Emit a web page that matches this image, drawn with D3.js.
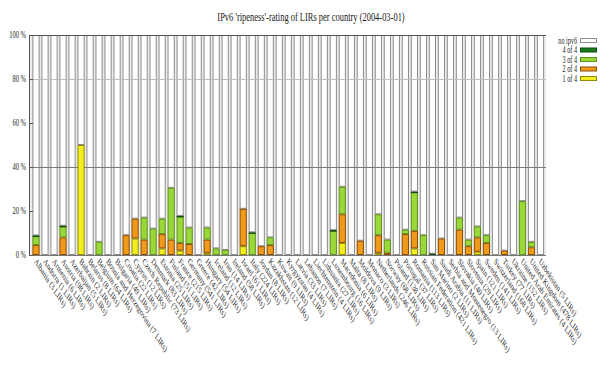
<!DOCTYPE html>
<html>
<head>
<meta charset="utf-8">
<script src="https://cdn.jsdelivr.net/npm/d3@7"></script>
<style>
  body { margin: 0; background: #fff; }
  text { font-family: "Liberation Serif", "DejaVu Serif", serif; fill: #1a1a1a; }
</style>
</head>
<body>
<svg id="chart" width="604" height="376"></svg>
<script>
const countries = ["Albania", "Andorra", "Armenia", "Austria", "Azerbaijan", "Bahrain", "Belarus",
  "Belgium", "Bosnia and Herzegovina", "Bulgaria", "Croatia", "Cyprus", "Czech Republic", "Denmark",
  "Estonia", "Finland", "France", "Germany", "Greece", "Hungary", "Iceland", "Iran", "Ireland",
  "Israel", "Italy", "Jordan", "Kazakhstan", "Kuwait", "Kyrgyzstan", "Latvia", "Lebanon",
  "Liechtenstein", "Lithuania", "Luxembourg", "Macedonia", "Malta", "Moldova", "Monaco",
  "Netherlands", "Norway", "Poland", "Portugal", "Romania", "Russian Federation", "San Marino",
  "Saudi Arabia", "Serbia and Montenegro", "Slovakia", "Slovenia", "Spain", "Sweden", "Switzerland",
  "Turkey", "Ukraine", "United Arab Emirates", "United Kingdom", "Uzbekistan"];
const lirCounts = [3, 1, 6, 98, 5, 2, 8, 64, 7, 49, 22, 12, 73, 83, 25, 51, 215, 541, 42, 54, 12, 14, 58,
  61, 224, 8, 12, 9, 4, 33, 7, 4, 27, 16, 6, 8, 9, 3, 246, 68, 138, 37, 113, 421, 2, 11, 13, 40, 29,
  121, 141, 168, 77, 152, 4, 478, 5];

// percent of LIRs per rating
const oneOf4 = [0, 0, 0, 0, 0, 50, 0, 0, 0, 0, 0, 7.5, 0, 0, 3, 0, 2, 0, 0, 1, 0, 0, 0, 4, 0, 0, 0,
  0, 0, 0, 0, 0, 0, 0, 5.5, 0, 0, 0, 1, 0, 0, 0, 3, 0, 0, 0, 0, 0, 0, 1.5, 0, 0, 0, 0, 0, 0, 0];
const twoOf4 = [4.5, 0, 0, 8, 0, 0, 0, 0, 0, 0, 9, 9, 7, 0, 6.5, 7, 3.5, 5, 0, 6, 0, 0, 0, 17, 0, 4, 4.5,
  0, 0, 0, 0, 0, 0, 0, 13, 0, 6.5, 0, 8, 1, 0, 9.5, 8, 0, 0, 7.5, 0, 11.5, 4, 6.5, 5.5, 0, 2, 0, 0, 3.5, 0];
const threeOf4 = [4, 0, 0, 5, 0, 0, 0, 6, 0, 0, 0, 0, 10, 12, 7, 23.5, 12, 7.5, 0, 5.5, 3, 2.3, 0, 0, 10,
  0, 3.5, 0, 0, 0, 0, 0, 0, 11, 12.5, 0, 0, 0, 9.5, 6, 0, 2, 17.5, 9, 0, 0, 0, 5.5, 3, 5, 3.5, 0, 0, 0,
  24.5, 2.5, 0];
const fourOf4 = [0.4, 0, 0, 0.3, 0, 0, 0, 0, 0, 0, 0, 0, 0, 0, 0, 0, 0.3, 0, 0, 0, 0, 0, 0, 0, 0.3, 0, 0,
  0, 0, 0, 0, 0, 0, 0.3, 0, 0, 0, 0, 0, 0, 0, 0, 0.3, 0, 0.6, 0, 0, 0, 0, 0, 0, 0, 0, 0, 0, 0, 0];
const yTicks = [0, 20, 40, 60, 80, 100];

const keys = ["one", "two", "three", "four", "none"];
const legendLabels = { none: "no ipv6", four: "4 of 4", three: "3 of 4", two: "2 of 4", one: "1 of 4" };
const fills = { none: "#ffffff", four: "#1f7a1f", three: "#9ad83a", two: "#f09a1c", one: "#f3ee22" };
const strokes = { none: "#8c8c8c", four: "#0f4a0f", three: "#5f8f1c", two: "#8a4c00", one: "#8f8a00" };

const rows = countries.map((c, i) => {
  const r = { country: c, one: oneOf4[i], two: twoOf4[i], three: threeOf4[i], four: fourOf4[i] };
  r.none = 100 - r.one - r.two - r.three - r.four;
  return r;
});

const svg = d3.select("#chart");
const SQ = 0.65; // the picture is squeezed sideways

const x = d3.scaleBand().domain(countries).range([31.5, 545]).paddingInner(0.2).paddingOuter(0.1);
const y = d3.scaleLinear().domain([0, 100]).range([255, 35]);

svg.append("text")
  .attr("transform", `translate(311,21) scale(${SQ},1)`)
  .attr("text-anchor", "middle")
  .style("font-size", "13px")
  .text("IPv6 'ripeness'-rating of LIRs per country (2004-03-01)");

// faint grey shows in the gaps between the columns
svg.append("rect")
  .attr("x", 30).attr("y", 36).attr("width", 516).attr("height", 219)
  .attr("fill", "#ececec");

const stacked = d3.stack().keys(keys)(rows);

function drawLayers(layers) {
  svg.append("g")
    .selectAll("g")
    .data(layers)
    .join("g")
    .attr("fill", (s) => fills[s.key])
    .attr("stroke", (s) => strokes[s.key])
    .selectAll("rect")
    .data((s) => s.filter((d) => d[1] - d[0] > 0))
    .join("rect")
    .attr("x", (d) => x(d.data.country) + 0.5)
    .attr("width", x.bandwidth() - 1)
    .attr("y", (d) => y(d[1]) + 0.5)
    .attr("height", (d) => Math.max(0.4, y(d[0]) - y(d[1]) - 1))
    .attr("stroke-width", 1);
}

// white "no ipv6" part first, then grid lines, then the coloured parts
drawLayers(stacked.filter((s) => s.key === "none"));

svg.append("line").attr("x1", 29).attr("x2", 546).attr("y1", y(80) + 0.5).attr("y2", y(80) + 0.5)
  .attr("stroke", "#bdbdbd").attr("stroke-width", 1);
svg.append("line").attr("x1", 29).attr("x2", 546).attr("y1", y(40) + 0.5).attr("y2", y(40) + 0.5)
  .attr("stroke", "#7a7a7a").attr("stroke-width", 1);

drawLayers(stacked.filter((s) => s.key !== "none"));

// axes frame
svg.append("line").attr("x1", 29.5).attr("x2", 29.5).attr("y1", 35).attr("y2", 255.5)
  .attr("stroke", "#555");
svg.append("line").attr("x1", 29).attr("x2", 546).attr("y1", 35.5).attr("y2", 35.5)
  .attr("stroke", "#555");
svg.append("line").attr("x1", 29).attr("x2", 546).attr("y1", 255.5).attr("y2", 255.5)
  .attr("stroke", "#777");

const yAxis = svg.append("g");
yAxis.selectAll("line")
  .data(yTicks)
  .join("line")
  .attr("x1", 29).attr("x2", 33)
  .attr("y1", (d) => y(d) + 0.5).attr("y2", (d) => y(d) + 0.5)
  .attr("stroke", "#555");
yAxis.selectAll("text")
  .data(yTicks)
  .join("text")
  .attr("transform", (d) => `translate(26,${y(d) + 3}) scale(${SQ},1)`)
  .attr("text-anchor", "end")
  .style("font-size", "10px")
  .text((d) => d + " %");

// rotated country labels
svg.append("g")
  .selectAll("text")
  .data(countries)
  .join("text")
  .attr("transform", (d) =>
    `translate(${x(d) + x.bandwidth() / 2 - 2},${262}) scale(${SQ},1) rotate(45)`)
  .style("font-size", "9.5px")
  .style("fill", "#2a2a2a")
  .text((d, i) => `${d} (${lirCounts[i]} LIRs)`);

// legend
const legend = svg.append("g");
const legendKeys = ["none", "four", "three", "two", "one"];
legend.selectAll("rect")
  .data(legendKeys)
  .join("rect")
  .attr("x", 580.5)
  .attr("y", (d, i) => 38.5 + i * 9.5)
  .attr("width", 16)
  .attr("height", 4)
  .attr("fill", (d) => fills[d])
  .attr("stroke", (d) => strokes[d]);
legend.selectAll("text")
  .data(legendKeys)
  .join("text")
  .attr("transform", (d, i) => `translate(577,${43.5 + i * 9.5}) scale(${SQ},1)`)
  .attr("text-anchor", "end")
  .style("font-size", "9.5px")
  .text((d) => legendLabels[d]);
</script>
</body>
</html>
